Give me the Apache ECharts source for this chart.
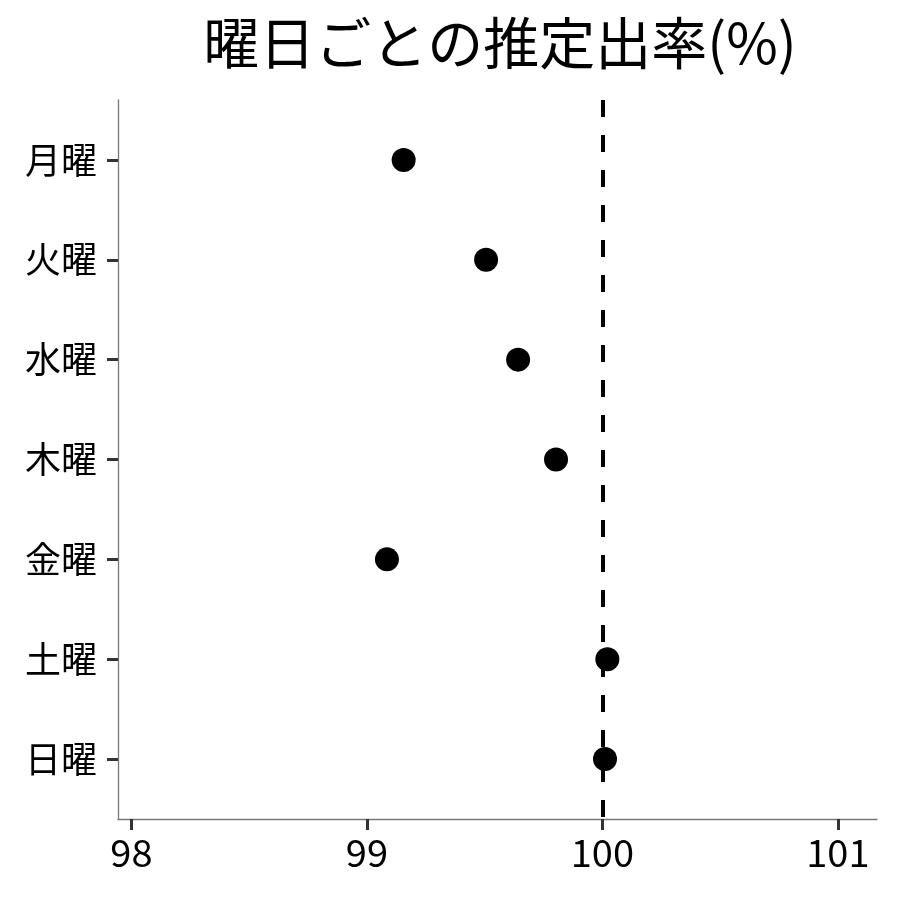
<!DOCTYPE html>
<html style="height: 100%">
<head>
    <meta charset="utf-8">
    <title>曜日ごとの推定出率(%)</title>
</head>
<body style="height: 100%; margin: 0; background: #fff">
    <div id="container" style="height: 100%"></div>
    <script type="text/javascript" src="https://cdn.jsdelivr.net/npm/echarts@6/dist/echarts.min.js"></script>
    <script type="text/javascript">
        var days = ['月曜', '火曜', '水曜', '木曜', '金曜', '土曜', '日曜'];
        var rates = [99.156, 99.506, 99.642, 99.803, 99.085, 100.021, 100.011];
        var xTicks = [98, 99, 100, 101];
        var refValue = 100;

        var font = '"Noto Sans CJK JP", "Noto Sans", sans-serif';

        // y is a value axis so the points sit at 1..7 like ggplot's discrete scale
        var points = rates.map(function (v, i) {
            return [v, i + 1];
        });

        var dom = document.getElementById("container");
        var myChart = echarts.init(dom);
        var option = {
            animation: false,
            backgroundColor: '#fff',
            title: {
                text: '曜日ごとの推定出率(%)',
                left: 495,
                textAlign: 'center',
                top: 10,
                textStyle: {
                    fontFamily: font,
                    fontSize: 56,
                    fontWeight: 'normal',
                    color: '#000'
                }
            },
            grid: {
                left: 118,
                right: 23,
                top: 100,
                bottom: 81,
                containLabel: false
            },
            xAxis: {
                type: 'value',
                min: 97.943,
                max: 101.166,
                splitLine: { show: false },
                axisLine: { show: true, lineStyle: { color: '#777', width: 1.3 } },
                axisTick: {
                    show: true,
                    length: 11,
                    lineStyle: { color: '#333', width: 3 },
                    customValues: xTicks
                },
                axisLabel: {
                    customValues: xTicks,
                    margin: 15,
                    fontFamily: font,
                    fontSize: 38,
                    color: '#000'
                }
            },
            yAxis: {
                type: 'value',
                inverse: true,
                min: 0.4,
                max: 7.6,
                splitLine: { show: false },
                axisLine: { show: true, lineStyle: { color: '#777', width: 1.3 } },
                axisTick: {
                    show: true,
                    length: 11,
                    lineStyle: { color: '#333', width: 3 },
                    customValues: [1, 2, 3, 4, 5, 6, 7]
                },
                axisLabel: {
                    customValues: [1, 2, 3, 4, 5, 6, 7],
                    margin: 21,
                    fontFamily: font,
                    fontSize: 36,
                    color: '#000',
                    formatter: function (v) {
                        return days[Math.round(v) - 1];
                    }
                }
            },
            series: [{
                name: 'rate',
                type: 'scatter',
                symbol: 'circle',
                symbolSize: 24,
                itemStyle: { color: '#000', opacity: 1 },
                data: points,
                z: 3,
                markLine: {
                    silent: true,
                    symbol: ['none', 'none'],
                    label: { show: false },
                    lineStyle: {
                        color: '#000',
                        width: 4,
                        type: [17, 18]
                    },
                    data: [{ xAxis: refValue }],
                    z: 2
                }
            }]
        };
        if (option && typeof option === "object") {
            myChart.setOption(option, true);
        }
    </script>
</body>
</html>
